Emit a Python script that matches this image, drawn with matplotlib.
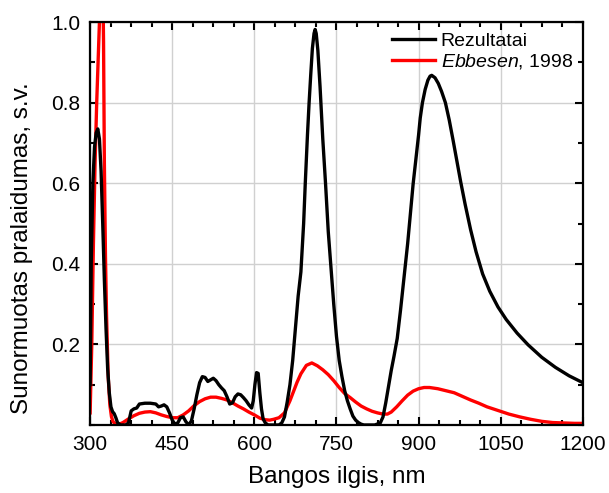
import numpy as np
import matplotlib
matplotlib.use('Agg')
import matplotlib.pyplot as plt
from matplotlib.ticker import MultipleLocator

# values (wavelength nm, normalised transmission)
rez_x = [300, 302, 305, 308, 311, 314, 317, 320, 323, 326, 329, 332, 335, 338, 341, 344, 347, 350,
         355, 365, 370, 375, 380, 385, 390, 400, 410, 420, 425, 430, 435, 440, 445, 450, 455, 460,
         465, 470, 475, 480, 485, 490, 495, 500, 505, 510, 515, 520, 525, 530, 535, 540, 545, 550,
         555, 560, 565, 570, 575, 580, 585, 590, 595, 598, 601, 604, 607, 610, 613, 616, 620, 625,
         635, 645, 650, 655, 660, 665, 670, 675, 680, 685, 690, 693, 697, 700, 703, 706, 709, 711,
         713, 716, 720, 725, 730, 735, 740, 745, 750, 755, 760, 765, 770, 775, 780, 785, 790, 795,
         800, 820, 830, 835, 840, 845, 850, 855, 861, 867, 873, 880, 885, 890, 895, 900, 903, 907,
         912, 917, 921, 924, 930, 936, 942, 949, 956, 963, 970, 977, 985, 995, 1005, 1017, 1030,
         1045, 1060, 1080, 1100, 1125, 1150, 1175, 1200]
rez_y = [0.10, 0.40, 0.60, 0.69, 0.725, 0.735, 0.71, 0.63, 0.50, 0.36, 0.24, 0.14, 0.08, 0.045, 0.033, 0.028, 0.018, 0.006,
         0.0, 0.0, 0.005, 0.035, 0.04, 0.042, 0.052, 0.054, 0.054, 0.052, 0.045, 0.047, 0.05, 0.045, 0.03, 0.012, 0.002, 0.005,
         0.018, 0.02, 0.008, 0.0, 0.01, 0.04, 0.075, 0.105, 0.12, 0.118, 0.108, 0.112, 0.116, 0.11, 0.10, 0.092, 0.085, 0.07,
         0.052, 0.055, 0.07, 0.077, 0.075, 0.068, 0.06, 0.05, 0.042, 0.06, 0.10, 0.13, 0.128, 0.08, 0.04, 0.015, 0.005, 0.0,
         0.0, 0.0, 0.005, 0.02, 0.057, 0.10, 0.16, 0.24, 0.32, 0.38, 0.50, 0.60, 0.72, 0.80, 0.87, 0.935, 0.972, 0.982,
         0.972, 0.93, 0.84, 0.71, 0.60, 0.48, 0.39, 0.30, 0.22, 0.16, 0.12, 0.085, 0.06, 0.04, 0.022, 0.012, 0.006, 0.002,
         0.0, 0.0, 0.005, 0.02, 0.055, 0.095, 0.135, 0.17, 0.215, 0.285, 0.36, 0.45, 0.525, 0.598, 0.66, 0.72, 0.762, 0.80,
         0.833, 0.856, 0.866, 0.868, 0.862, 0.848, 0.828, 0.80, 0.757, 0.707, 0.655, 0.603, 0.548, 0.485, 0.43, 0.375, 0.332,
         0.293, 0.262, 0.228, 0.199, 0.168, 0.143, 0.122, 0.105]

ebb_x = [300, 303, 306, 309, 312, 315, 318, 321, 323, 324.5, 326, 328, 330, 333, 336, 339, 342, 346, 350,
         355, 360, 370, 380, 390, 400, 410, 420, 430, 440, 450, 460, 470, 480, 490, 500, 510, 520, 530,
         540, 550, 560, 570, 580, 590, 600, 610, 620, 628, 635, 645, 655, 665, 678, 685, 695, 705, 715,
         725, 735, 745, 755, 765, 775, 785, 795, 805, 815, 825, 835, 843, 850, 860, 870, 880, 890, 900,
         910, 920, 935, 950, 965, 980, 995, 1010, 1025, 1045, 1065, 1085, 1105, 1125, 1145, 1165, 1185, 1200]
ebb_y = [0.03, 0.20, 0.45, 0.65, 0.80, 0.92, 1.04, 1.15, 1.12, 0.95, 0.65, 0.42, 0.27, 0.12, 0.05, 0.02, 0.008, 0.003, 0.002,
         0.003, 0.006, 0.015, 0.023, 0.029, 0.032, 0.033, 0.030, 0.025, 0.021, 0.018, 0.018, 0.025, 0.035, 0.048, 0.058, 0.065, 0.069, 0.069,
         0.066, 0.062, 0.055, 0.047, 0.040, 0.032, 0.025, 0.017, 0.013, 0.012, 0.014, 0.018, 0.030, 0.060, 0.106, 0.127, 0.148, 0.154, 0.147,
         0.137, 0.125, 0.11, 0.093, 0.078, 0.068, 0.057, 0.047, 0.040, 0.034, 0.030, 0.027, 0.027, 0.032, 0.045, 0.060, 0.074, 0.084, 0.090,
         0.093, 0.093, 0.090, 0.085, 0.080, 0.071, 0.062, 0.054, 0.045, 0.036, 0.027, 0.020, 0.014, 0.009, 0.006, 0.005, 0.004, 0.004]

xticks = [300, 450, 600, 750, 900, 1050, 1200]
yticks = [0.2, 0.4, 0.6, 0.8, 1.0]

plt.rcParams['font.family'] = 'Liberation Sans'
plt.rcParams['mathtext.fontset'] = 'custom'
plt.rcParams['mathtext.it'] = 'Liberation Sans:italic'
plt.rcParams['mathtext.rm'] = 'Liberation Sans'

fig = plt.figure(figsize=(6.09, 4.93), dpi=100)
ax = fig.add_axes([0.148, 0.138, 0.809, 0.817])

ax.plot(rez_x, rez_y, color='black', lw=2.4, label='Rezultatai', zorder=3)
ax.plot(ebb_x, ebb_y, color='#ff0000', lw=2.4, label=r'$\it{Ebbesen}$, 1998', zorder=2)

ax.set_xlim(300, 1200)
ax.set_ylim(0, 1.0)
ax.set_xticks(xticks)
ax.set_yticks(yticks)
ax.set_yticklabels(['%.1f' % v for v in yticks])
ax.xaxis.set_minor_locator(MultipleLocator(37.5))
ax.yaxis.set_minor_locator(MultipleLocator(0.1))
ax.grid(True, which='major', color='#d0d0d0', lw=1.0, zorder=0)

ax.tick_params(which='both', direction='in', top=True, right=True, width=1.5)
ax.tick_params(which='major', length=6, labelsize=15, pad=7)
ax.tick_params(which='minor', length=3.5)
for s in ax.spines.values():
    s.set_linewidth(1.6)

ax.set_xlabel('Bangos ilgis, nm', fontsize=17.5, labelpad=9)
ax.set_ylabel('Sunormuotas pralaidumas, s.v.', fontsize=17.5)
ax.yaxis.set_label_coords(-0.115, 0.44)

ax.legend(loc='upper right', frameon=False, fontsize=14, handlelength=2.2,
          handletextpad=0.3, labelspacing=0.15, borderaxespad=0.3, borderpad=0.2)

plt.savefig('out.png', dpi=100)
